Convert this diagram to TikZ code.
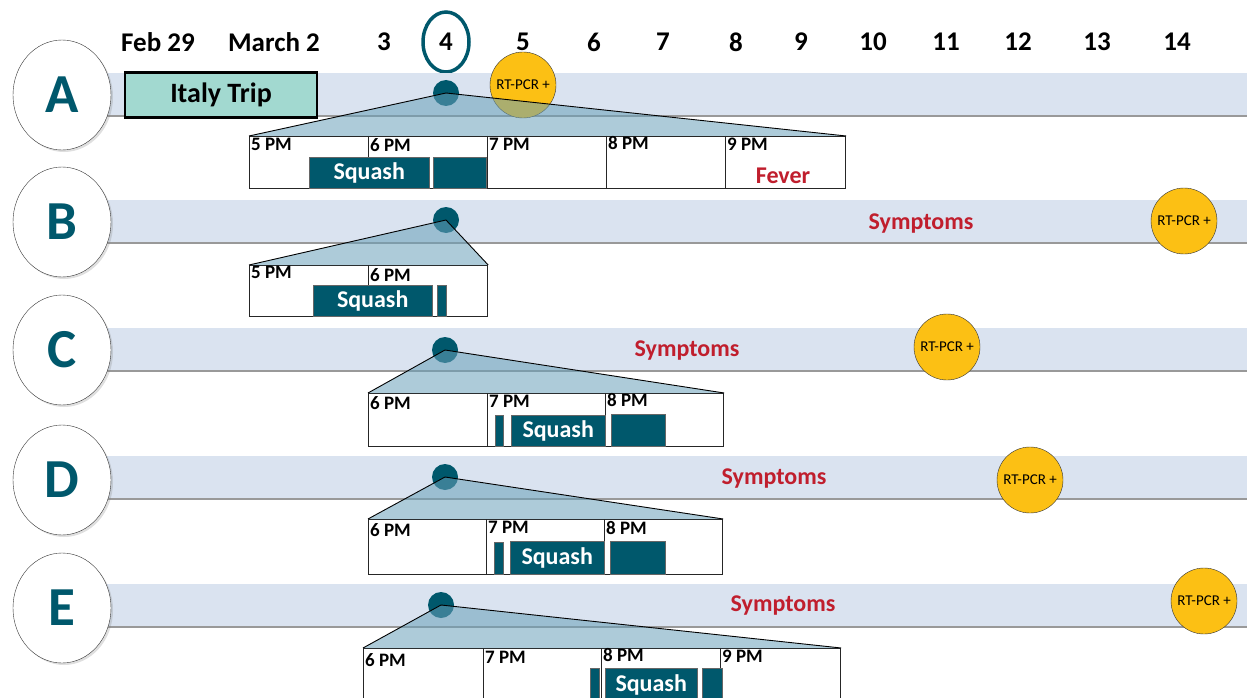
\documentclass[tikz,border=0pt]{standalone}
\usepackage{fontspec}
\setmainfont{Carlito}
\usetikzlibrary{shapes.geometric,shadows}
\definecolor{squashteal}{RGB}{0,88,108}
\definecolor{bandblue}{RGB}{218,227,240}
\definecolor{tripgreen}{RGB}{162,217,208}
\definecolor{feverred}{RGB}{192,30,45}
\definecolor{pcryellow}{RGB}{252,192,20}
\definecolor{zoomblue}{RGB}{105,160,185}
\begin{document}
\begin{tikzpicture}[x=1pt,y=-1pt,
  day/.style={inner sep=0,font=\fontsize{27}{30}\selectfont\bfseries},
  person/.style={ellipse,draw=black!80,fill=white,minimum width=98pt,minimum height=110pt,text=squashteal,
    drop shadow={opacity=0.25,shadow xshift=2pt,shadow yshift=-2pt},font=\fontsize{55}{57}\selectfont\bfseries},
  band/.style={fill=bandblue},
  bandshadow/.style={draw=black!40,line width=2.5pt},
  hours/.style={draw=black!85,fill=white,line width=1.2pt,inner sep=0,anchor=north west},
  cell/.style={draw=black!85,line width=1pt},
  pm/.style={inner sep=2pt,anchor=north west,font=\fontsize{19}{20}\selectfont\bfseries},
  bar/.style={draw=black!60,fill=squashteal,inner sep=0,anchor=north west,text=white,font=\fontsize{24}{26}\selectfont\bfseries},
  meet/.style={circle,fill=squashteal,minimum size=26pt,inner sep=0},
  zoomfill/.style={fill=zoomblue,fill opacity=0.55},
  zoomline/.style={draw=black,line width=0.9pt},
  pcr/.style={circle,fill=pcryellow,draw=black!80,minimum size=66pt,inner sep=0,font=\fontsize{15}{16}\selectfont},
  sym/.style={text=feverred,font=\fontsize{24}{26}\selectfont\bfseries}
  ]
  \clip (0,0) rectangle (1247,698);
  % 
  % Dates
  % 
  \node(d29) [day] at (158,42) {Feb 29};
  \node(d2)  [day] at (274,42) {March 2};
  \node(d3)  [day] at (384,42) {3};
  \node(d4)  [day] at (446,42) {4};
  \node(d5)  [day] at (523,42) {5};
  \node(d6)  [day] at (594,42) {6};
  \node(d7)  [day] at (663,42) {7};
  \node(d8)  [day] at (736,42) {8};
  \node(d9)  [day] at (801,42) {9};
  \node(d10) [day] at (873,42) {10};
  \node(d11) [day] at (946,42) {11};
  \node(d12) [day] at (1018,42){12};
  \node(d13) [day] at (1097,42){13};
  \node(d14) [day] at (1177,42){14};
  \node(ring)[ellipse,draw=squashteal,line width=3.5pt,minimum width=46pt,minimum height=60pt] at (d4) {};
  % 
  % Bands
  % 
  \fill[band] (100,73) rectangle (1247,115);
  \draw[bandshadow] (100,116) -- (1247,116);
  \fill[band] (100,200) rectangle (1247,242);
  \draw[bandshadow] (100,243) -- (1247,243);
  \fill[band] (100,328) rectangle (1247,370);
  \draw[bandshadow] (100,371) -- (1247,371);
  \fill[band] (100,456) rectangle (1247,498);
  \draw[bandshadow] (100,499) -- (1247,499);
  \fill[band] (100,584) rectangle (1247,626);
  \draw[bandshadow] (100,627) -- (1247,627);
  % 
  % People
  % 
  \node(pA)[person] at (62,95)  {A};
  \node(pB)[person] at (62,222) {B};
  \node(pC)[person] at (62,350) {C};
  \node(pD)[person] at (62,480) {D};
  \node(pE)[person] at (62,608) {E};
  \node(trip)[draw=black,line width=2.5pt,fill=tripgreen,minimum width=192pt,minimum height=45pt,
    font=\fontsize{28}{30}\selectfont\bfseries] at (221,95) {Italy Trip};
  % 
  % A
  % 
  \node(pcrA)[pcr] at (523,85) {RT-PCR +};
  \node(dotA)[meet] at (446,93) {};
  \node(hoursA)[hours,minimum width=596pt,minimum height=52pt] at (249,136) {};
  \fill[zoomfill] (dotA.center) -- (hoursA.north west) -- (hoursA.north east) -- cycle;
  \draw[zoomline] (hoursA.north west) -- (dotA.center) -- (hoursA.north east);
  \draw[cell] (368,136) -- (368,188);
  \draw[cell] (487,136) -- (487,188);
  \draw[cell] (606,136) -- (606,188);
  \draw[cell] (725,136) -- (725,188);
  \node(hA5)[pm] at (249,136) {5 PM};
  \node(hA6)[pm] at (368,136) {6 PM};
  \node(hA7)[pm] at (487,136) {7 PM};
  \node(hA8)[pm] at (606,134) {8 PM};
  \node(hA9)[pm] at (725,136) {9 PM};
  \node(sqA1)[bar,minimum width=120pt,minimum height=31pt] at (309,157) {Squash};
  \node(sqA2)[bar,minimum width=53pt,minimum height=31pt]  at (433,157) {};
  \node(fever)[sym] at (783,176) {Fever};
  % 
  % B
  % 
  \node(dotB)[meet] at (446,220) {};
  \node(hoursB)[hours,minimum width=238pt,minimum height=51pt] at (249,265) {};
  \fill[zoomfill] (dotB.center) -- (hoursB.north west) -- (hoursB.north east) -- cycle;
  \draw[zoomline] (hoursB.north west) -- (dotB.center) -- (hoursB.north east);
  \draw[cell] (368,265) -- (368,316);
  \node(hB5)[pm] at (249,264) {5 PM};
  \node(hB6)[pm] at (368,266) {6 PM};
  \node(sqB1)[bar,minimum width=119pt,minimum height=31pt] at (313,285) {Squash};
  \node(sqB2)[bar,minimum width=9pt,minimum height=31pt]   at (437,285) {};
  \node(symB)[sym] at (921,224) {Symptoms};
  \node(pcrB)[pcr] at (1184,221) {RT-PCR +};
  % 
  % C
  % 
  \node(dotC)[meet] at (445,350) {};
  \node(hoursC)[hours,minimum width=355pt,minimum height=53pt] at (368,393) {};
  \fill[zoomfill] (dotC.center) -- (hoursC.north west) -- (hoursC.north east) -- cycle;
  \draw[zoomline] (hoursC.north west) -- (dotC.center) -- (hoursC.north east);
  \draw[cell] (487,393) -- (487,446);
  \draw[cell] (605,393) -- (605,446);
  \node(hC6)[pm] at (368,394) {6 PM};
  \node(hC7)[pm] at (487,393) {7 PM};
  \node(hC8)[pm] at (605,391) {8 PM};
  \node(sqC1)[bar,minimum width=8pt,minimum height=31pt]  at (495,415) {};
  \node(sqC2)[bar,minimum width=94pt,minimum height=31pt] at (511,415) {Squash};
  \node(sqC3)[bar,minimum width=54pt,minimum height=32pt] at (611,414) {};
  \node(symC)[sym] at (687,351) {Symptoms};
  \node(pcrC)[pcr] at (947,347) {RT-PCR +};
  % 
  % D
  % 
  \node(dotD)[meet] at (445,477) {};
  \node(hoursD)[hours,minimum width=354pt,minimum height=55pt] at (368,519) {};
  \fill[zoomfill] (dotD.center) -- (hoursD.north west) -- (hoursD.north east) -- cycle;
  \draw[zoomline] (hoursD.north west) -- (dotD.center) -- (hoursD.north east);
  \draw[cell] (486,519) -- (486,574);
  \draw[cell] (604,519) -- (604,574);
  \node(hD6)[pm] at (368,521) {6 PM};
  \node(hD7)[pm] at (486,519) {7 PM};
  \node(hD8)[pm] at (604,519) {8 PM};
  \node(sqD1)[bar,minimum width=9pt,minimum height=32pt]  at (494,542) {};
  \node(sqD2)[bar,minimum width=94pt,minimum height=33pt] at (510,541) {Squash};
  \node(sqD3)[bar,minimum width=55pt,minimum height=33pt] at (610,541) {};
  \node(symD)[sym] at (774,479) {Symptoms};
  \node(pcrD)[pcr] at (1030,480) {RT-PCR +};
  % 
  % E
  % 
  \node(dotE)[meet] at (441,605) {};
  \node(hoursE)[hours,minimum width=477pt,minimum height=60pt] at (363,648) {};
  \fill[zoomfill] (dotE.center) -- (hoursE.north west) -- (hoursE.north east) -- cycle;
  \draw[zoomline] (hoursE.north west) -- (dotE.center) -- (hoursE.north east);
  \draw[cell] (483,648) -- (483,708);
  \draw[cell] (601,648) -- (601,708);
  \draw[cell] (720,648) -- (720,708);
  \node(hE6)[pm] at (363,651) {6 PM};
  \node(hE7)[pm] at (483,649) {7 PM};
  \node(hE8)[pm] at (601,646) {8 PM};
  \node(hE9)[pm] at (720,648) {9 PM};
  \node(sqE1)[bar,minimum width=9pt,minimum height=40pt]  at (590,668) {};
  \node(sqE2)[bar,minimum width=92pt,minimum height=40pt,text depth=10pt] at (605,668) {Squash};
  \node(sqE3)[bar,minimum width=20pt,minimum height=40pt] at (702,668) {};
  \node(symE)[sym] at (783,606) {Symptoms};
  \node(pcrE)[pcr] at (1204,601) {RT-PCR +};
\end{tikzpicture}
\end{document}
